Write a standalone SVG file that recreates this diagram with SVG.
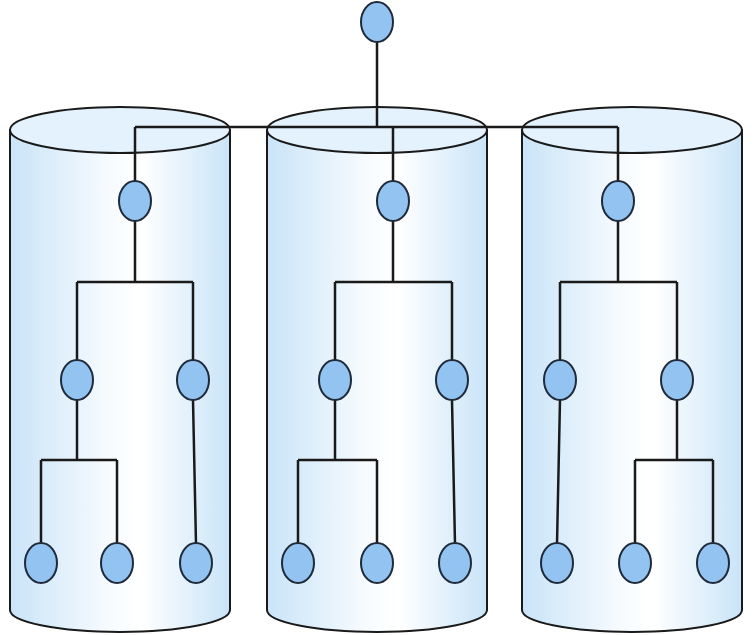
<svg xmlns="http://www.w3.org/2000/svg" width="756" height="635" viewBox="0 0 756 635">
<defs>
<linearGradient id="body" x1="0" y1="0" x2="1" y2="0">
<stop offset="0" stop-color="#c9e4f8"/>
<stop offset="0.45" stop-color="#f7fbfe"/>
<stop offset="0.6" stop-color="#ffffff"/>
<stop offset="1" stop-color="#c9e4f8"/>
</linearGradient>
<style>
.cyl{fill:url(#body);stroke:#1a1a1a;stroke-width:2}
.top{fill:#e3f2fc;stroke:#1a1a1a;stroke-width:2}
.n{fill:#93c3f0;stroke:#1f2a3a;stroke-width:2}
.e{fill:none;stroke:#1a1a1a;stroke-width:2.5}
</style>
</defs>
<rect width="756" height="635" fill="#ffffff"/>
<g id="cylinders">
<g id="cyl1"><path class="cyl" d="M10,130 L10,610 A110,22 0 0 0 230,610 L230,130 Z"/><ellipse class="top" cx="120" cy="130" rx="110" ry="23"/></g>
<g id="cyl2"><path class="cyl" d="M267,130 L267,610 A110,22 0 0 0 487,610 L487,130 Z"/><ellipse class="top" cx="377" cy="130" rx="110" ry="23"/></g>
<g id="cyl3"><path class="cyl" d="M522,130 L522,610 A110,22 0 0 0 742,610 L742,130 Z"/><ellipse class="top" cx="632" cy="130" rx="110" ry="23"/></g>
</g>
<g id="connectors">
<path class="e" d="M377,40 V127 M135,127 H618 M135,127 V182 M393,127 V182 M618,127 V182"/>
<path class="e" d="M135,220 V282 M77,282 H193 M77,282 V362 M193,282 V362 M77,400 V460 M41,460 H117 M41,460 V544 M117,460 V544 M193,400 L196,544"/>
<path class="e" d="M393,220 V282 M335,282 H452 M335,282 V362 M452,282 V362 M335,400 V460 M298,460 H377 M298,460 V544 M377,460 V544 M452,400 L455,544"/>
<path class="e" d="M618,220 V282 M560,282 H677 M560,282 V362 M677,282 V362 M560,400 L557,544 M677,400 V460 M635,460 H713 M635,460 V544 M713,460 V544"/>
</g>
<g id="root"><ellipse class="n" cx="377" cy="22" rx="16" ry="20"/></g>
<g id="c1"><ellipse class="n" cx="135" cy="201" rx="16" ry="20"/></g>
<g id="c1a"><ellipse class="n" cx="77" cy="380" rx="16" ry="20"/></g>
<g id="c1b"><ellipse class="n" cx="193" cy="380" rx="16" ry="20"/></g>
<g id="c1l1"><ellipse class="n" cx="41" cy="563" rx="16" ry="20"/></g>
<g id="c1l2"><ellipse class="n" cx="117" cy="563" rx="16" ry="20"/></g>
<g id="c1l3"><ellipse class="n" cx="196" cy="563" rx="16" ry="20"/></g>
<g id="c2"><ellipse class="n" cx="393" cy="201" rx="16" ry="20"/></g>
<g id="c2a"><ellipse class="n" cx="335" cy="380" rx="16" ry="20"/></g>
<g id="c2b"><ellipse class="n" cx="452" cy="380" rx="16" ry="20"/></g>
<g id="c2l1"><ellipse class="n" cx="298" cy="563" rx="16" ry="20"/></g>
<g id="c2l2"><ellipse class="n" cx="377" cy="563" rx="16" ry="20"/></g>
<g id="c2l3"><ellipse class="n" cx="455" cy="563" rx="16" ry="20"/></g>
<g id="c3"><ellipse class="n" cx="618" cy="201" rx="16" ry="20"/></g>
<g id="c3a"><ellipse class="n" cx="560" cy="380" rx="16" ry="20"/></g>
<g id="c3b"><ellipse class="n" cx="677" cy="380" rx="16" ry="20"/></g>
<g id="c3l1"><ellipse class="n" cx="557" cy="563" rx="16" ry="20"/></g>
<g id="c3l2"><ellipse class="n" cx="635" cy="563" rx="16" ry="20"/></g>
<g id="c3l3"><ellipse class="n" cx="713" cy="563" rx="16" ry="20"/></g>
</svg>
